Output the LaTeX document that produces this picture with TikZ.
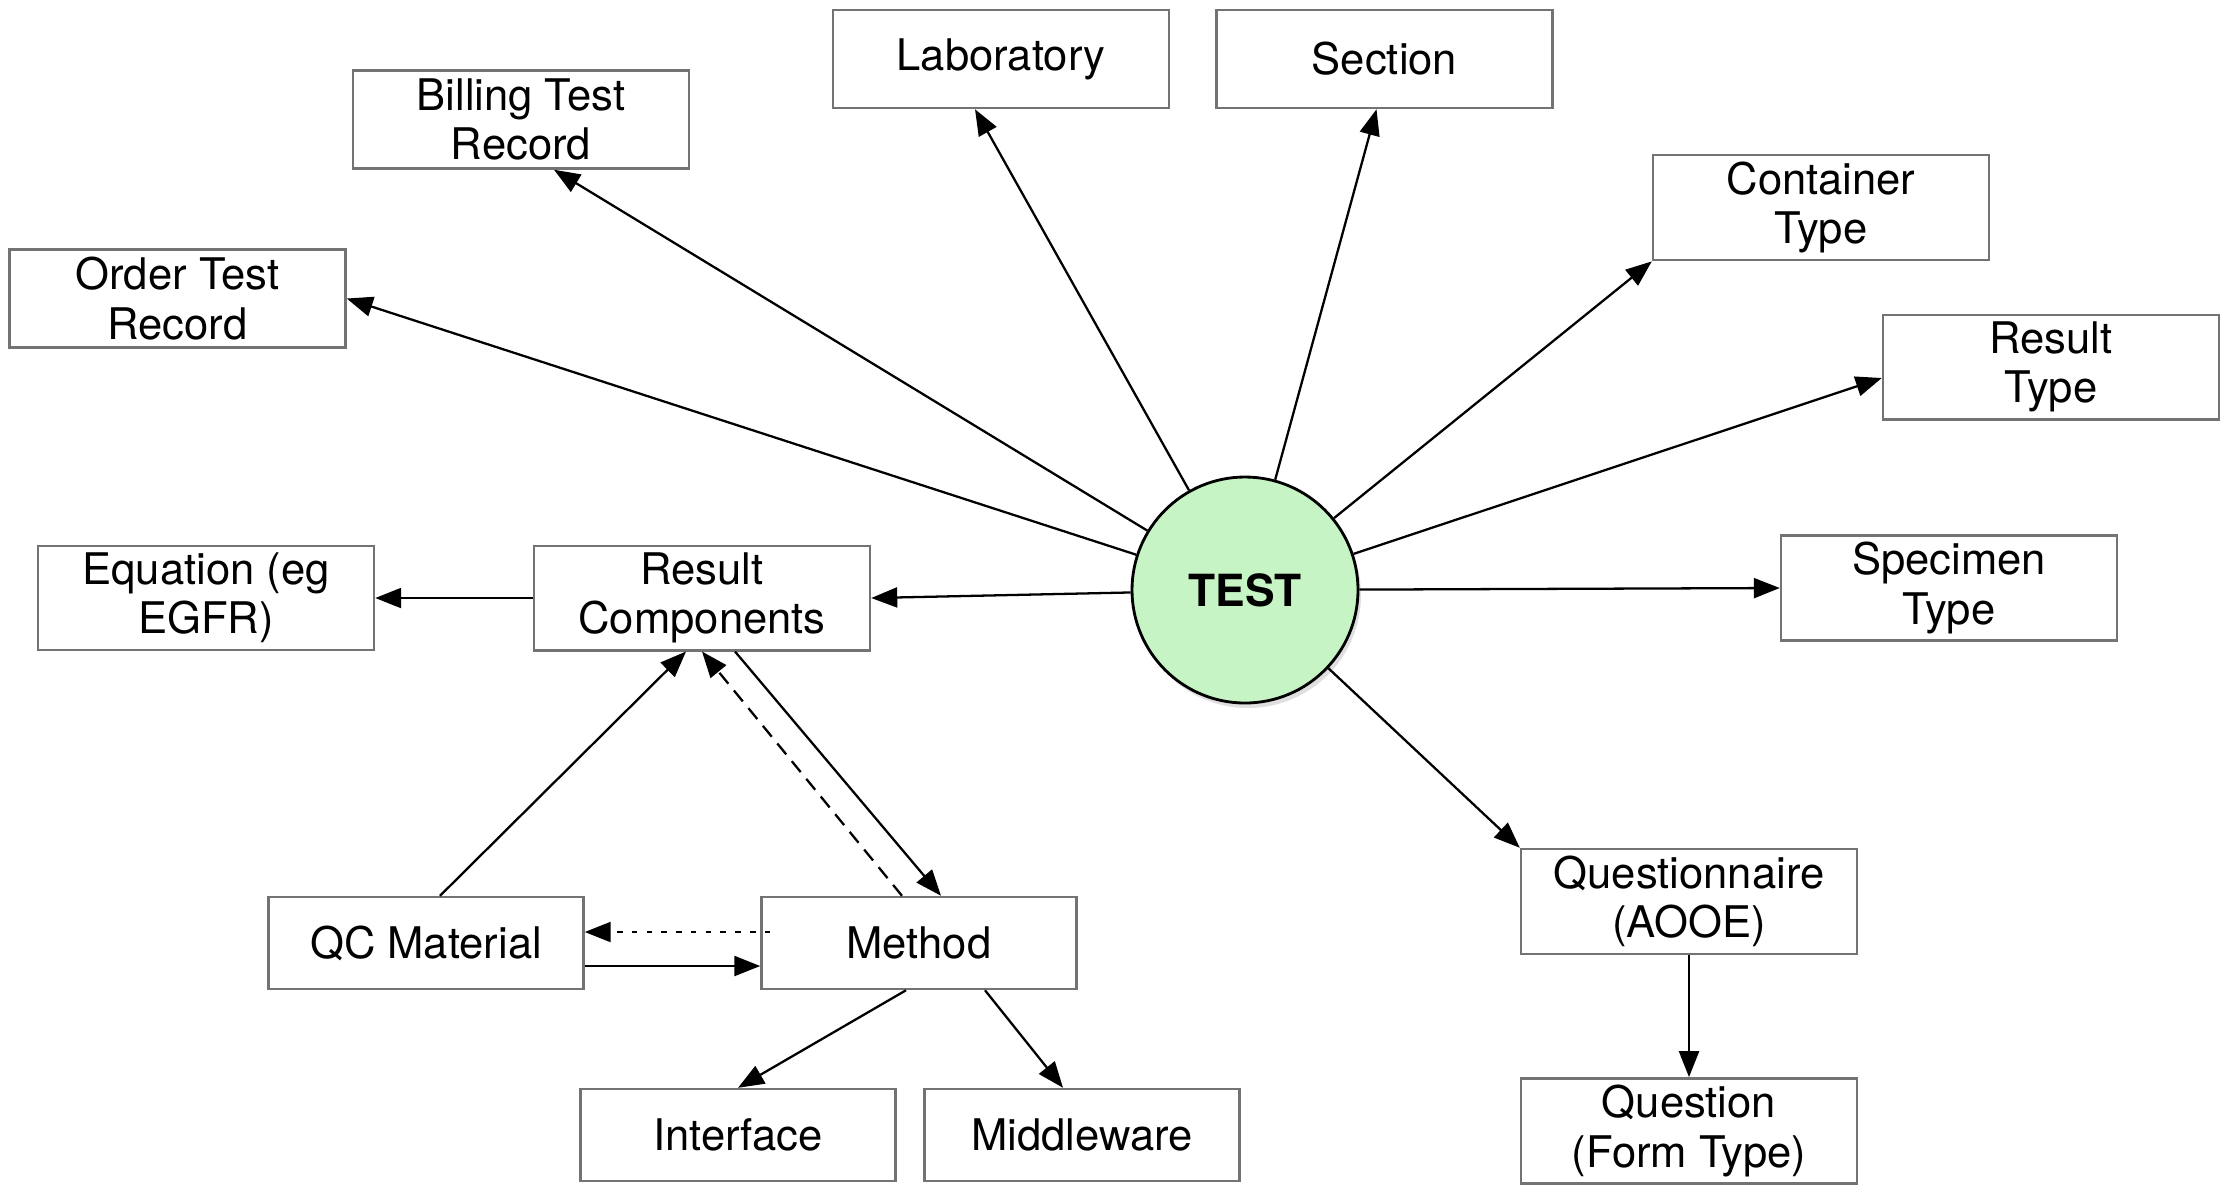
\documentclass[tikz,border=0pt]{standalone}
\usepackage{xcolor}
\usepackage{fontspec}
\setmainfont{TeX Gyre Heros}
\usepackage{tikz}
\usetikzlibrary{arrows.meta,positioning,calc,shadows}
\definecolor{testgreen}{RGB}{198,244,196}

\begin{document}
\begin{tikzpicture}[
		block/.style={draw=black!55, line width=0.7pt, fill=white, align=center, minimum width=3.36cm, minimum height=0.98cm, inner sep=2pt, font=\fontsize{12.4}{14}\selectfont},
		sblock/.style={block, minimum width=3.15cm, minimum height=0.92cm},
		hub/.style={circle, draw=black, line width=0.8pt, fill=testgreen, minimum size=2.26cm, font=\bfseries\fontsize{12.6}{14}\selectfont, drop shadow={shadow xshift=0.03cm, shadow yshift=-0.05cm, opacity=0.25}},
		arr/.style={-{Triangle[length=2.6mm, width=2mm]}, line width=0.65pt}
		]
		\useasboundingbox (0,0) rectangle (22.29,-11.88);
		\node[hub] (test) at (12.45,-5.90) {TEST};
		\node[block] (bill) at (5.21,-1.195) {Billing Test\\Record};
		\node[block] (lab) at (10.01,-0.59) {\raisebox{-0.6mm}{Laboratory}};
		\node[block] (sect) at (13.845,-0.59) {Section};
		\node[block] (cont) at (18.21,-2.075) {Container\\Type};
		\node[block] (order) at (1.775,-2.985) {Order Test\\Record};
		\node[block] (rtype) at (20.51,-3.67) {Result\\Type};
		\node[block] (eqn) at (2.06,-5.98) {Equation (eg\\EGFR)};
		\node[block] (rc) at (7.02,-5.98) {Result\\Components};
		\node[block] (spec) at (19.49,-5.88) {Specimen\\Type};
		\node[sblock] (qc) at (4.26,-9.43) {QC Material};
		\node[sblock] (meth) at (9.19,-9.43) {Method};
		\node[block] (aooe) at (16.89,-9.015) {Questionnaire\\(AOOE)};
		\node[sblock] (intf) at (7.38,-11.35) {Interface};
		\node[sblock] (midw) at (10.82,-11.35) {Middleware};
		\node[block] (quest) at (16.89,-11.31) {Question\\(Form Type)};
		% spokes out of TEST
		\draw[arr] (test) -- (order.east);
		\draw[arr] (test) -- ([xshift=3.3mm]bill.south);
		\draw[arr] (test) -- ([xshift=-2.6mm]lab.south);
		\draw[arr] (test) -- ([xshift=-0.8mm]sect.south);
		\draw[arr] (test) -- (cont.south west);
		\draw[arr] (test) -- ([yshift=-1.1mm]rtype.west);
		\draw[arr] (test) -- (spec.west);
		\draw[arr] (test) -- (aooe.north west);
		\draw[arr] (test) -- (rc.east);
		\draw[arr] (rc.west) -- (eqn.east);
		% method / QC triangle
		\draw[arr] ([xshift=1.4mm]qc.north) -- ([xshift=-1.6mm]rc.south);
		\draw[arr, dash pattern=on 4pt off 2.5pt] ([xshift=-1.7mm]meth.north) -- (rc.south);
		\draw[arr] ([xshift=3.3mm]rc.south) -- ([xshift=2.2mm]meth.north);
		\draw[arr, dash pattern=on 1.6pt off 2.6pt] ([xshift=1mm,yshift=1.1mm]meth.west) -- ([yshift=1.1mm]qc.east);
		\draw[arr] ([yshift=-2.3mm]qc.east) -- ([yshift=-2.3mm]meth.west);
		\draw[arr] ([xshift=-1.3mm]meth.south) -- (intf.north);
		\draw[arr] ([xshift=6.6mm]meth.south) -- ([xshift=-1.9mm]midw.north);
		\draw[arr] (aooe) -- (quest);
\end{tikzpicture}
\end{document}
